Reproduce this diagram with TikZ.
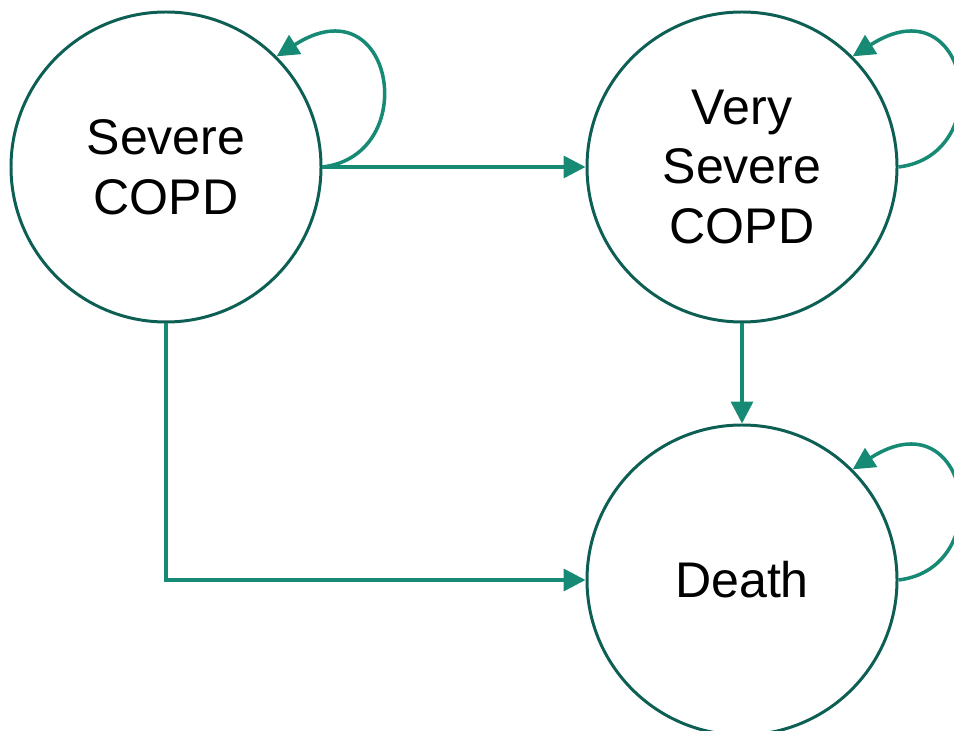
\documentclass[tikz,border=0pt]{standalone}
\usepackage{fontspec}
\setmainfont{Liberation Sans}
\usetikzlibrary{arrows.meta, positioning}

\definecolor{ringcol}{HTML}{0D5F54}
\definecolor{edgecol}{HTML}{168A74}

\tikzset{
  state/.style={circle, draw=ringcol, line width=1.7pt, minimum size=6.2cm,
    inner sep=0pt, align=center, font=\fontsize{28.5}{34}\selectfont},
  trans/.style={draw=edgecol, line width=2pt,
    -{Triangle[length=0.44cm,width=0.44cm]}},
}

\begin{document}
\begin{tikzpicture}
          \useasboundingbox (0,0) rectangle (19.08,-14.62);

          \node[state] (sev) at (3.32,-3.34) {Severe\\COPD};
          \node[state] (vsev) at (14.84,-3.34) {Very\\Severe\\COPD};
          \node[state] (death) at (14.84,-11.6) {Death};

          % forward transitions
          \draw[trans] (sev.east) -- (vsev.west);
          \draw[trans] (vsev.south) -- (death.north);
          \draw[trans] (sev.south) |- (death.west);

          % staying in the same state
          \draw[trans] (sev.east) .. controls +(2.0,0.24) and +(2.34,1.5) .. (sev.45);
          \draw[trans] (vsev.east) .. controls +(2.0,0.24) and +(2.34,1.5) .. (vsev.45);
          \draw[trans] (death.east) .. controls +(2.0,0.24) and +(2.34,1.5) .. (death.45);
        \end{tikzpicture}
\end{document}
